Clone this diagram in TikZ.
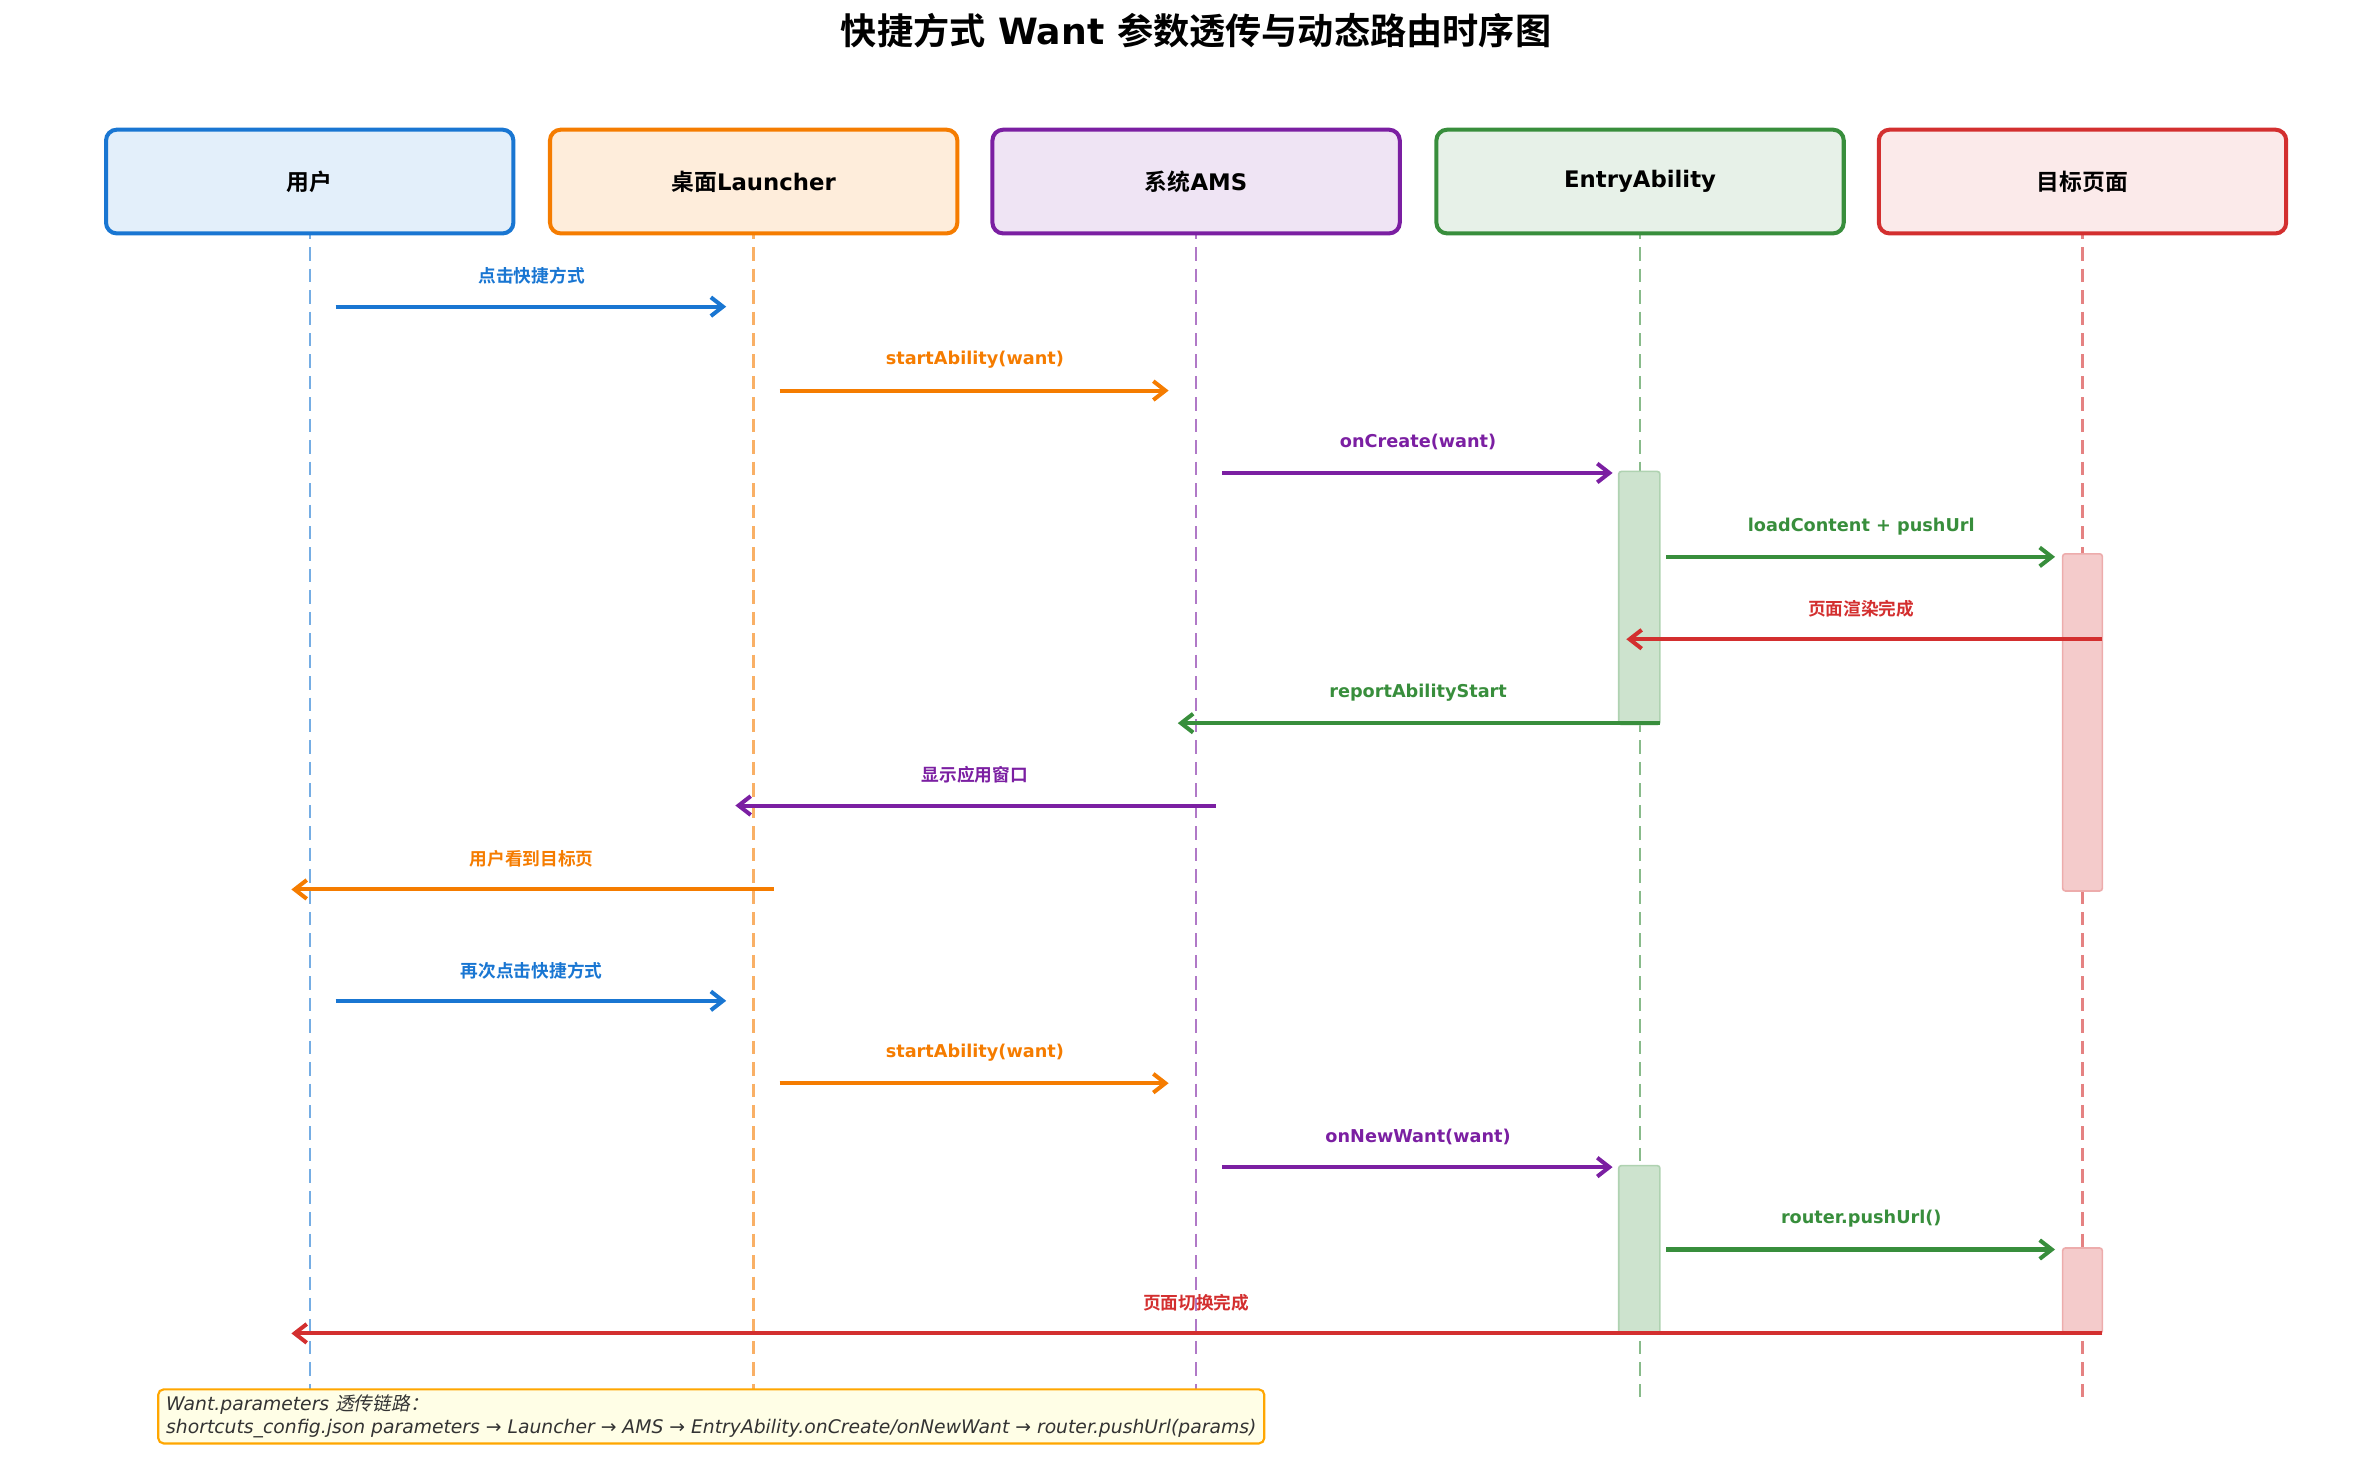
\documentclass[tikz,border=0pt]{standalone}
\usepackage{fontspec}
\setmainfont{DejaVu Sans}
\newfontfamily\cjk{Noto Sans CJK SC}[BoldFont={Noto Sans CJK SC Bold},ItalicFont={Noto Sans CJK SC},ItalicFeatures={FakeSlant=0.2}]
\usetikzlibrary{arrows.meta,calc}
\definecolor{cblue}{HTML}{1976D2}
\definecolor{corange}{HTML}{F57C00}
\definecolor{cpurple}{HTML}{7B1FA2}
\definecolor{cgreen}{HTML}{388E3C}
\definecolor{cred}{HTML}{D32F2F}
\newcommand\zh[1]{{\cjk #1}}
\tikzset{
  head/.style={draw=#1,line width=1.5pt,rounded corners=4pt,minimum width=267*0.02cm,
    minimum height=68*0.02cm,font=\fontsize{8.5}{10}\selectfont\bfseries},
  life/.style={draw=#1!60,line width=0.9pt,dash pattern=on 5pt off 3pt},
  msg/.style={draw=#1,line width=1.5pt,-{Straight Barb[length=4.5pt,width=7pt]}},
  mlabel/.style={text=#1,font=\fontsize{6.6}{8}\selectfont\bfseries},
  act/.style={draw=#1!40,fill=#1!25,line width=0.6pt,rounded corners=1pt}
}
\begin{document}
\begin{tikzpicture}[x=0.02cm,y=-0.02cm]
\useasboundingbox (0,0) rectangle (1560,970);

%Title
\node[font=\fontsize{13.5}{16}\selectfont\bfseries] (title) at (784,20) {\zh{快捷方式} Want \zh{参数透传与动态路由时序图}};

%Lifelines
\foreach \n/\x/\c in {usr/203/cblue,lau/494/corange,ams/784/cpurple,ent/1075/cgreen,tgt/1365/cred}{
  \coordinate (\n top) at (\x,148);
  \coordinate (\n bot) at (\x,918);
  \draw[life=\c] (\n top) -- (\n bot);
}

%Activations
\draw[act=cgreen] (1061,309) rectangle (1088,475);
\draw[act=cred] (1352,363) rectangle (1378,584);
\draw[act=cgreen] (1061,764) rectangle (1088,874);
\draw[act=cred] (1352,818) rectangle (1378,874);

%Heads
\node[head=cblue,fill=cblue!12] (usr) at (203,119) {\zh{用户}};
\node[head=corange,fill=corange!14] (lau) at (494,119) {\zh{桌面}Launcher};
\node[head=cpurple,fill=cpurple!12] (ams) at (784,119) {\zh{系统}AMS};
\node[head=cgreen,fill=cgreen!12] (ent) at (1075,119) {EntryAbility};
\node[head=cred,fill=cred!10] (tgt) at (1365,119) {\zh{目标页面}};

%Messages (\s = start shift, \e = end shift)
\foreach \i/\y/\f/\t/\c/\s/\e/\l in {
  1/201/usr/lau/cblue/17/-18/\zh{点击快捷方式},
  2/256/lau/ams/corange/17/-18/startAbility(want),
  3/310/ams/ent/cpurple/17/-18/onCreate(want),
  4/365/ent/tgt/cgreen/17/-18/loadContent + pushUrl,
  5/419/tgt/ent/cred/13/-9/\zh{页面渲染完成},
  6/474/ent/ams/cgreen/13/-12/reportAbilityStart,
  7/528/ams/lau/cpurple/13/-12/\zh{显示应用窗口},
  8/583/lau/usr/corange/13/-12/\zh{用户看到目标页},
  9/656/usr/lau/cblue/17/-18/\zh{再次点击快捷方式},
  10/710/lau/ams/corange/17/-18/startAbility(want),
  11/765/ams/ent/cpurple/17/-18/onNewWant(want),
  12/819/ent/tgt/cgreen/17/-18/router.pushUrl(),
  13/874/tgt/usr/cred/13/-12/\zh{页面切换完成}}{
  \coordinate (m\i s) at ($(\f top |- 0,\y)+(\s,0)$);
  \coordinate (m\i e) at ($(\t top |- 0,\y)+(\e,0)$);
  \draw[msg=\c] (m\i s) -- (m\i e);
  \node[mlabel=\c] (m\i l) at ($(\f top |- 0,\y-20)!0.5!(\t top |- 0,\y-20)$) {\l};
}

%Note
\node[draw=orange!70!yellow,fill=yellow!10,line width=0.8pt,rounded corners=2pt,anchor=north west,
  align=left,inner sep=2pt,text=black!80,font=\fontsize{7}{8.6}\selectfont\itshape,
  minimum width=725*0.02cm] (note) at (103,910)
  {Want.parameters \zh{透传链路：}\\shortcuts\_config.json parameters → Launcher → AMS → EntryAbility.onCreate/onNewWant → router.pushUrl(params)};
\end{tikzpicture}
\end{document}
